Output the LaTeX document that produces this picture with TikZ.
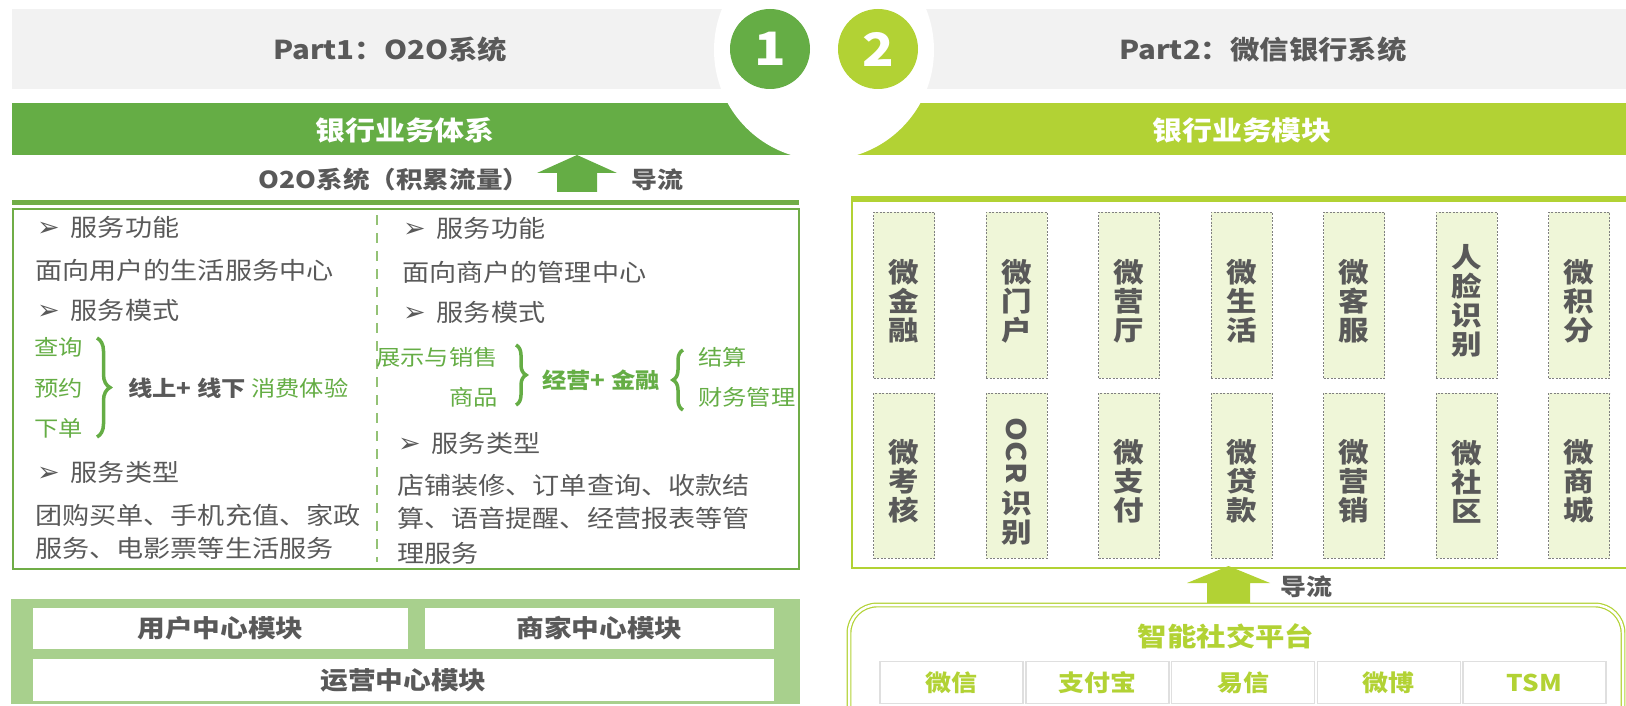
\documentclass[tikz,border=0pt]{standalone}
\usepackage{fontspec}
\setmainfont[FakeStretch=1.13]{Noto Sans CJK SC}
\newfontfamily\symfont{DejaVu Sans}
\usetikzlibrary{calc,decorations.pathreplacing}

\definecolor{barGray}{HTML}{F2F2F2}
\definecolor{partGreen}{HTML}{65AD45}
\definecolor{partLime}{HTML}{B2D234}
\definecolor{txtGray}{HTML}{595959}
\definecolor{panelGreen}{HTML}{A8D08D}
\definecolor{cellFill}{HTML}{EFF6D8}
\definecolor{lineGreen}{HTML}{70AD47}

\newcommand{\bul}{{\symfont\fontsize{27}{28}\selectfont ➢}\hspace{11pt}}

\tikzset{
  txt/.style={inner sep=0pt, anchor=west, text=txtGray, font=\fontsize{24}{28}\selectfont},
  gtxt/.style={inner sep=0pt, anchor=west, text=partGreen, font=\fontsize{21.5}{26}\selectfont},
  hdr/.style={inner sep=0pt, text=txtGray, font=\fontsize{26}{30}\selectfont\bfseries},
  band/.style={inner sep=0pt, text=white, font=\fontsize{26.5}{30}\selectfont\bfseries},
  num/.style={circle, minimum size=80pt, inner sep=0pt, text=white, font=\fontsize{46}{50}\selectfont\bfseries},
  wbox/.style={draw=gray, dash pattern=on 2pt off 1.5pt, line width=0.8pt, fill=cellFill, minimum width=61pt, minimum height=166pt, inner sep=0pt},
  wlabel/.style={align=center, inner sep=0pt, text=txtGray, font=\fontsize{27}{29}\selectfont\bfseries},
  modbox/.style={fill=white, inner sep=0pt, minimum height=41pt, text=txtGray, font=\fontsize{24.5}{28}\selectfont\bfseries},
  chan/.style={draw=gray!25, line width=1.5pt, fill=white, minimum width=143pt, minimum height=42pt, inner sep=0pt, text=partLime, font=\fontsize{23}{27}\selectfont\bfseries},
  bracesty/.style={decorate, line width=3.5pt, draw=partGreen},
}

\begin{document}
\begin{tikzpicture}[x=1pt,y=-1pt]
\useasboundingbox (0,0) rectangle (1626,706);
\clip (0,0) rectangle (1626,706);

% title bars
\fill[barGray] (12,9) rectangle (824,89);
\fill[barGray] (824,9) rectangle (1626,89);
\fill[partGreen] (12,103) rectangle (824,155);
\fill[partLime] (824,103) rectangle (1626,155);
\fill[white] (824,50) circle[radius=110pt];
\node[num,fill=partGreen] (one) at (770,49) {1};
\node[num,fill=partLime] (two) at (878,49) {2};

\node[hdr] (part1) at (390,50) {Part1：O2O系统};
\node[hdr] (part2) at (1263,50) {Part2：微信银行系统};
\node[band] (sysL) at (405,130) {银行业务体系};
\node[band] (sysR) at (1242,130) {银行业务模块};

% flow arrows
\node[hdr,font=\fontsize{23.5}{27}\selectfont\bfseries] (o2o) at (394,180) {O2O系统（积累流量）};
\coordinate (arrL) at (577,192);
\fill[partGreen] (arrL) ++(-20,0) -- ++(0,-19) -- ++(-20,0) -- ++(40,-18) -- ++(40,18) -- ++(-20,0) -- ++(0,19) -- cycle;
\node[hdr,font=\fontsize{23}{27}\selectfont\bfseries] (flowL) at (657,180) {导流};

\coordinate (arrR) at (1228.5,603);
\fill[partLime] (arrR) ++(-21.5,0) -- ++(0,-20) -- ++(-20,0) -- ++(41.5,-17) -- ++(41.5,17) -- ++(-20,0) -- ++(0,20) -- cycle;
\node[hdr,font=\fontsize{23}{27}\selectfont\bfseries] (flowR) at (1306,587) {导流};

% O2O box
\draw[lineGreen,line width=5pt] (12,202.5) -- (799,202.5);
\draw[lineGreen,line width=2pt] (13,209) rectangle (799,569);
\draw[lineGreen!75,line width=2pt,dash pattern=on 10pt off 8pt] (377,215) -- (377,562);

\node[txt] (funcL) at (37,227) {\bul 服务功能};
\node[txt] (funcLt) at (35,270) {面向用户的生活服务中心};
\node[txt] (modeL) at (37,310) {\bul 服务模式};
\node[gtxt] (query) at (34,347) {查询};
\node[gtxt] (book) at (34,388) {预约};
\node[gtxt] (order) at (34,428) {下单};
\draw[bracesty,decoration={brace,amplitude=13pt}] (97,338) -- (97,437);
\node[gtxt] (online) at (128,388) {{\color{txtGray}\bfseries 线上+ 线下} 消费体验};
\node[txt] (typeL) at (37,472) {\bul 服务类型};
\node[txt] (typeL1) at (35,515) {团购买单、手机充值、家政};
\node[txt] (typeL2) at (35,548) {服务、电影票等生活服务};

\node[txt] (funcR) at (403,228) {\bul 服务功能};
\node[txt] (funcRt) at (402,272) {面向商户的管理中心};
\node[txt] (modeR) at (403,312) {\bul 服务模式};
\node[gtxt,anchor=east] (show) at (498,357) {展示与销售};
\node[gtxt,anchor=east] (goods) at (498,397) {商品};
\draw[bracesty,decoration={brace,amplitude=10pt}] (516,345) -- (516,405);
\node[gtxt,font=\fontsize{21.5}{26}\selectfont\bfseries] (bizfin) at (542,380) {经营+ 金融};
\draw[bracesty,decoration={brace,amplitude=10pt}] (683,410) -- (683,350);
\node[gtxt] (settle) at (698,357) {结算};
\node[gtxt] (finance) at (698,397) {财务管理};
\node[txt] (typeR) at (398,443) {\bul 服务类型};
\node[txt] (typeR1) at (397,485) {店铺装修、订单查询、收款结};
\node[txt] (typeR2) at (397,518) {算、语音提醒、经营报表等管};
\node[txt] (typeR3) at (397,553) {理服务};

% modules
\fill[panelGreen] (11,599) rectangle (800,704);
\node[modbox,minimum width=375pt] (userMod) at (220.5,628.5) {用户中心模块};
\node[modbox,minimum width=349pt] (shopMod) at (599.5,628.5) {商家中心模块};
\node[modbox,minimum width=741pt,minimum height=42pt] (opsMod) at (403.5,680) {运营中心模块};

% wechat bank modules
\draw[partLime,line width=5pt] (851,199) -- (1626,199);
\draw[partLime,line width=2.5pt] (852,199) -- (852,568) -- (1630,568);
\foreach \lbl [count=\i] in {{微\\金\\融},{微\\门\\户},{微\\营\\厅},{微\\生\\活},{微\\客\\服},{人\\脸\\识\\别},{微\\积\\分}}{
  \node[wbox] (top\i) at ({904+112.5*(\i-1)},295) {};
  \node[wlabel] (topl\i) at ($(top\i)+(0,6)$) {\lbl};
}
\foreach \lbl [count=\i] in {{微\\考\\核},{\rotatebox{-90}{OCR}\\[6pt]识\\别},{微\\支\\付},{微\\贷\\款},{微\\营\\销},{微\\社\\区},{微\\商\\城}}{
  \node[wbox,minimum height=165pt] (bot\i) at ({904+112.5*(\i-1)},475.5) {};
  \node[wlabel] (botl\i) at ($(bot\i)+(0,6)$) {\lbl};
}

% social platform
\draw[partLime,line width=1.2pt,double=white,double distance=2.5pt,rounded corners=28pt] (849,605) rectangle (1623,740);
\node[hdr,text=partLime] (social) at (1226,636) {智能社交平台};
\foreach \ch [count=\i] in {微信,支付宝,易信,微博,TSM}
  \node[chan] (ch\i) at ({951.5+145.75*(\i-1)},682.5) {\ch};

\end{tikzpicture}
\end{document}
